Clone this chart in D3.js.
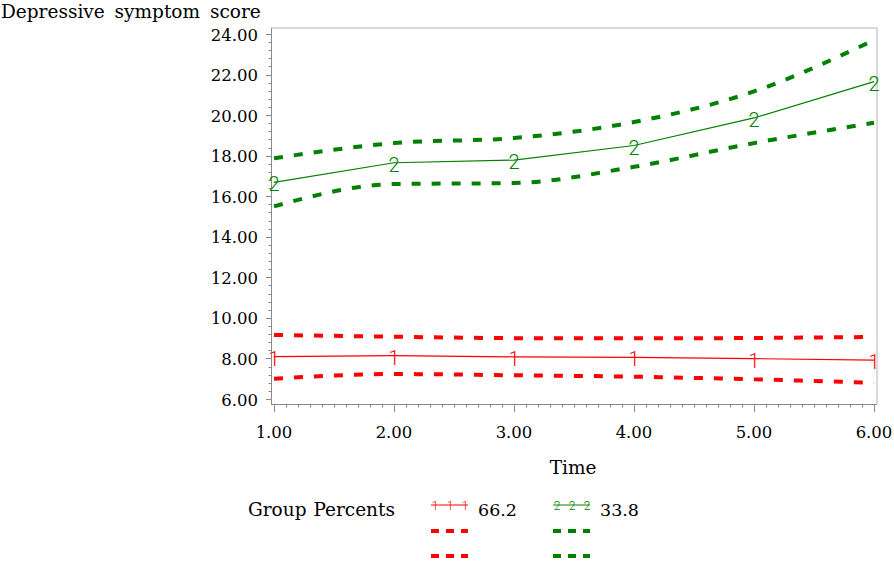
<!DOCTYPE html>
<html>
<head>
<meta charset="utf-8">
<script src="https://cdn.jsdelivr.net/npm/d3@7"></script>
<style>
  html, body { margin: 0; padding: 0; background: #fff; }
  svg { display: block; }
  .serif { font-family: "DejaVu Serif", "Liberation Serif", serif; fill: #000; }
</style>
</head>
<body>
<svg id="chart" width="894" height="561"></svg>
<script>
// ---- data ----
const times = [1, 2, 3, 4, 5, 6];
const g1Mean  = [8.09, 8.14, 8.08, 8.05, 7.99, 7.92];
const g1Upper = [9.16, 9.07, 9.00, 8.99, 9.01, 9.06];
const g1Lower = [7.00, 7.23, 7.17, 7.10, 6.97, 6.80];
const g2Mean  = [16.68, 17.65, 17.78, 18.50, 19.86, 21.65];
const g2Upper = [17.87, 18.62, 18.87, 19.66, 21.17, 23.70];
const g2Lower = [15.50, 16.60, 16.65, 17.45, 18.62, 19.62];
const groupLabels = ["1", "2"];
const groupPercents = ["66.2", "33.8"];
const yTicks = [6, 8, 10, 12, 14, 16, 18, 20, 22, 24];
const xTicks = [1, 2, 3, 4, 5, 6];
const yLabel = "Depressive symptom score";
const xLabel = "Time";
const legendTitle = "Group Percents";

// ---- layout ----
const svg = d3.select("#chart");
const frame = {left: 271, right: 877, top: 28, bottom: 404};
const x = d3.scaleLinear().domain([1, 6]).range([274, 874]);
const y = d3.scaleLinear().domain([6, 24]).range([399, 34]);
const colors = ["#ff0000", "#008000"];
const axisColor = "#8a8a8a";

// frame (top & right)
svg.append("path")
  .attr("d", `M${frame.left},${frame.top}H${frame.right}V${frame.bottom}`)
  .attr("fill", "none").attr("stroke", "#b4b4b4").attr("stroke-width", 1);

// y axis
const yMinor = d3.range(6, 24.001, 0.4).map(v => +v.toFixed(2));
const yAxisG = svg.append("g");
yAxisG.append("line").attr("x1", frame.left + 0.5).attr("x2", frame.left + 0.5)
  .attr("y1", frame.top).attr("y2", frame.bottom).attr("stroke", axisColor);
yAxisG.selectAll("line.minor").data(yMinor).join("line").attr("class", "minor")
  .attr("x1", frame.left - 2.5).attr("x2", frame.left)
  .attr("y1", d => Math.round(y(d)) + 0.5).attr("y2", d => Math.round(y(d)) + 0.5)
  .attr("stroke", axisColor);
yAxisG.selectAll("line.major").data(yTicks).join("line").attr("class", "major")
  .attr("x1", frame.left - 5).attr("x2", frame.left)
  .attr("y1", d => Math.round(y(d)) + 0.5).attr("y2", d => Math.round(y(d)) + 0.5)
  .attr("stroke", axisColor);
yAxisG.selectAll("text").data(yTicks).join("text").attr("class", "serif")
  .attr("x", 258).attr("y", d => y(d) + 6.5)
  .attr("text-anchor", "end").attr("font-size", 16.5)
  .text(d => d3.format(".2f")(d));

// x axis
const xMinor = d3.range(1, 6.001, 0.1).map(v => +v.toFixed(2));
const xAxisG = svg.append("g");
xAxisG.append("line").attr("x1", frame.left).attr("x2", frame.right)
  .attr("y1", frame.bottom + 0.5).attr("y2", frame.bottom + 0.5).attr("stroke", axisColor);
xAxisG.selectAll("line.minor").data(xMinor).join("line").attr("class", "minor")
  .attr("x1", d => Math.round(x(d)) + 0.5).attr("x2", d => Math.round(x(d)) + 0.5)
  .attr("y1", frame.bottom).attr("y2", frame.bottom + 3.5).attr("stroke", axisColor);
xAxisG.selectAll("line.major").data(xTicks).join("line").attr("class", "major")
  .attr("x1", d => Math.round(x(d)) + 0.5).attr("x2", d => Math.round(x(d)) + 0.5)
  .attr("y1", frame.bottom).attr("y2", frame.bottom + 8).attr("stroke", axisColor);
xAxisG.selectAll("text").data(xTicks).join("text").attr("class", "serif")
  .attr("x", d => x(d)).attr("y", 438)
  .attr("text-anchor", "middle").attr("font-size", 16.5)
  .text(d => d3.format(".2f")(d));

// axis labels
svg.append("text").attr("class", "serif").attr("x", 1).attr("y", 18)
  .attr("font-size", 18.5).attr("word-spacing", 4).text(yLabel);
svg.append("text").attr("class", "serif").attr("x", 573).attr("y", 474)
  .attr("text-anchor", "middle").attr("font-size", 18.5).text(xLabel);

// ---- series ----
const groups = [
  {mean: g1Mean, upper: g1Upper, lower: g1Lower},
  {mean: g2Mean, upper: g2Upper, lower: g2Lower}
];
const meanLine = d3.line().x((d, i) => x(times[i])).y(d => y(d));
const ciLine = d3.line().x((d, i) => x(times[i])).y(d => y(d)).curve(d3.curveMonotoneX);

groups.forEach((g, gi) => {
  const c = colors[gi];
  [g.upper, g.lower].forEach(arr => {
    svg.append("path").attr("d", ciLine(arr)).attr("fill", "none")
      .attr("stroke", c).attr("stroke-width", 4).attr("stroke-dasharray", "9,11");
  });
  svg.append("path").attr("d", meanLine(g.mean)).attr("fill", "none")
    .attr("stroke", c).attr("stroke-width", 1.2);
  svg.selectAll(null).data(g.mean).join("text")
    .attr("x", (d, i) => x(times[i])).attr("y", d => y(d) + 9)
    .attr("text-anchor", "middle")
    .attr("font-family", "Roboto, 'DejaVu Sans', sans-serif")
    .attr("font-weight", 300).attr("font-size", 20)
    .attr("fill", c).text(groupLabels[gi]);
});

// ---- legend ----
svg.append("text").attr("class", "serif").attr("x", 248).attr("y", 516)
  .attr("font-size", 18.5).attr("word-spacing", 1).text(legendTitle);
const legX = [431, 553];
groups.forEach((g, gi) => {
  const c = colors[gi];
  const lx = legX[gi];
  svg.append("line").attr("x1", lx).attr("x2", lx + 37).attr("y1", 505).attr("y2", 505)
    .attr("stroke", c).attr("stroke-width", 1);
  [4, 19, 34].forEach(dx => {
    svg.append("text").attr("x", lx + dx).attr("y", 509.5).attr("text-anchor", "middle")
      .attr("font-family", "Roboto, 'DejaVu Sans', sans-serif")
      .attr("font-weight", 300).attr("font-size", 12).attr("fill", c).text(groupLabels[gi]);
  });
  svg.append("text").attr("class", "serif").attr("x", lx + 47).attr("y", 516)
    .attr("font-size", 17.5).text(groupPercents[gi]);
  [531, 556].forEach(ly => {
    svg.append("line").attr("x1", lx).attr("x2", lx + 37).attr("y1", ly).attr("y2", ly)
      .attr("stroke", c).attr("stroke-width", 4).attr("stroke-dasharray", "8,7");
  });
});
</script>
</body>
</html>
